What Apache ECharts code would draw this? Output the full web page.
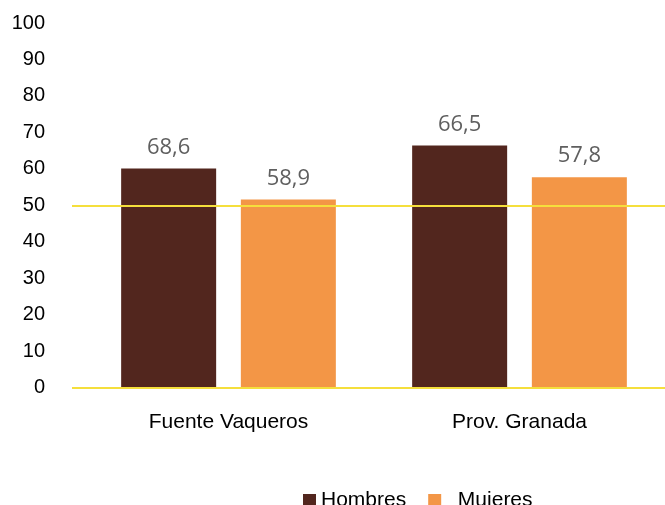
<!DOCTYPE html>
<html>
<head>
<meta charset="utf-8">
<script src="https://cdn.jsdelivr.net/npm/echarts@6/dist/echarts.min.js"></script>
<style>
  html, body { margin: 0; padding: 0; background: #fff; }
  #chart { width: 665px; height: 505px; }
</style>
</head>
<body>
<div id="chart"></div>
<script>
// datos
var categories = ['Fuente Vaqueros', 'Prov. Granada']
var hombres = [60.1, 66.4]
var mujeres = [51.6, 57.7]
// etiquetas tal como aparecen sobre las barras
var hombresLabels = ['68,6', '66,5']
var mujeresLabels = ['58,9', '57,8']
var refLines = [0, 50]

var myChart = echarts.init(document.getElementById('chart'))

var labelStyle = {
  show: true,
  position: 'top',
  distance: 10,
  fontFamily: 'Open Sans',
  fontSize: 22,
  color: '#5f5f5f',
}

var option = {
  animation: false,
  backgroundColor: '#fff',
  grid: [
    // rejilla del eje y y las lineas amarillas
    { left: 72, right: 0, top: 23, bottom: 117.5 },
    // rejilla de las barras
    { left: 83, right: -3, top: 23, bottom: 117.5 },
  ],
  legend: {
    data: ['Hombres', 'Mujeres'],
    left: 298,
    top: 485,
    icon: 'rect',
    itemWidth: 13,
    itemHeight: 13,
    itemGap: 22,
    textStyle: {
      fontFamily: 'Liberation Sans',
      fontSize: 21,
      color: '#000',
    },
    formatter: function (name) {
      return name === 'Mujeres' ? '  ' + name : name
    },
  },
  xAxis: [
    { type: 'category', gridIndex: 0, data: categories, show: false },
    {
      type: 'category',
      gridIndex: 1,
      data: categories,
      axisLine: { show: false },
      axisTick: { show: false },
      axisLabel: {
        margin: 24,
        fontFamily: 'Liberation Sans',
        fontSize: 21,
        color: '#000',
      },
    },
  ],
  yAxis: [
    {
      type: 'value',
      gridIndex: 0,
      min: 0,
      max: 100,
      interval: 10,
      axisLine: { show: false },
      axisTick: { show: false },
      splitLine: { show: false },
      axisLabel: {
        margin: 27,
        fontFamily: 'Liberation Sans',
        fontSize: 20,
        color: '#000',
      },
    },
    {
      type: 'value',
      gridIndex: 1,
      min: 0,
      max: 100,
      interval: 10,
      show: false,
      splitLine: { show: false },
    },
  ],
  series: [
    {
      name: 'ref',
      type: 'line',
      xAxisIndex: 0,
      yAxisIndex: 0,
      data: [],
      z: 1,
      markLine: {
        silent: true,
        symbol: 'none',
        label: { show: false },
        lineStyle: { color: '#f5df3c', width: 2, type: 'solid' },
        data: refLines.map(function (v) {
          return { yAxis: v }
        }),
      },
    },
    {
      name: 'Hombres',
      type: 'bar',
      xAxisIndex: 1,
      yAxisIndex: 1,
      barWidth: 95,
      barGap: '26%',
      z: 3,
      itemStyle: { color: '#52261e' },
      label: Object.assign({}, labelStyle, {
        formatter: function (p) {
          return hombresLabels[p.dataIndex]
        },
      }),
      data: hombres,
    },
    {
      name: 'Mujeres',
      type: 'bar',
      xAxisIndex: 1,
      yAxisIndex: 1,
      barWidth: 95,
      barGap: '26%',
      z: 3,
      itemStyle: { color: '#f39646' },
      label: Object.assign({}, labelStyle, {
        formatter: function (p) {
          return mujeresLabels[p.dataIndex]
        },
      }),
      data: mujeres,
    },
  ],
}

myChart.setOption(option)
</script>
</body>
</html>
